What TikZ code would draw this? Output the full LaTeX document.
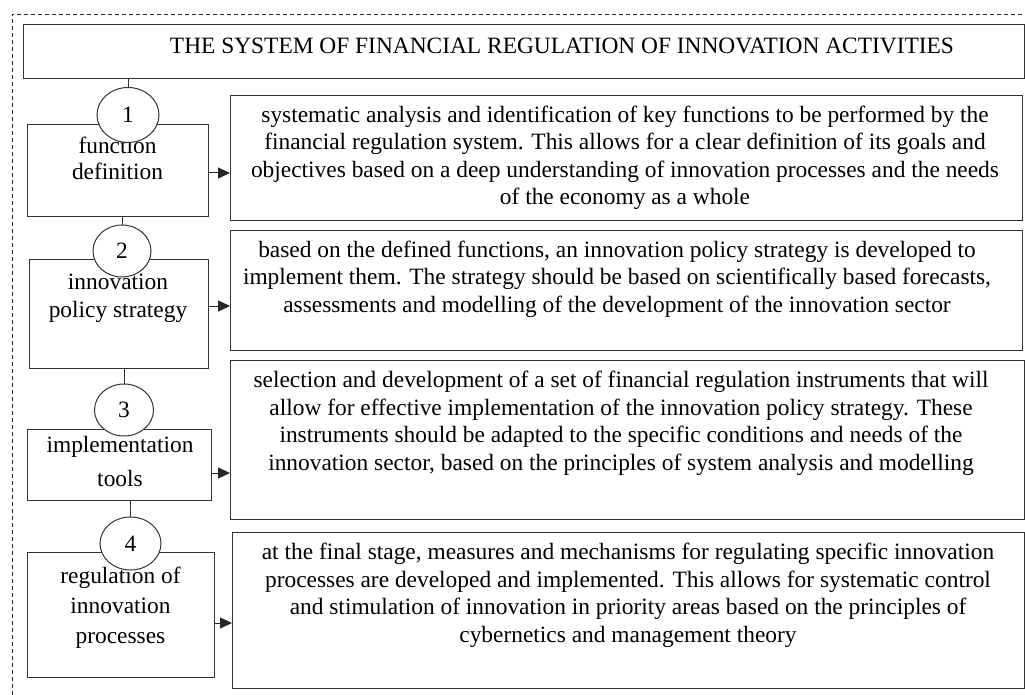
\documentclass[tikz,border=0pt]{standalone}
\usepackage{fontspec}
\setmainfont{Liberation Serif}
\usetikzlibrary{shapes.geometric,arrows.meta,calc}
\begin{document}
\begin{tikzpicture}[x=1pt,y=-1pt,
  box/.style={draw=black!80,line width=1pt,rectangle,inner sep=0pt,anchor=north west},
  txt/.style={font=\fontsize{23.4}{27.5}\selectfont,align=center,inner sep=0pt,anchor=base},
  num/.style={draw=black!80,line width=1pt,ellipse,fill=white,inner sep=0pt,font=\fontsize{23.4}{27.5}\selectfont},
  arr/.style={line width=1pt,draw=black!85,-{Triangle[length=12pt,width=11pt]}},
  lnk/.style={line width=1pt,draw=black!80},
  frame/.style={line width=0.8pt,draw=black!85,dash pattern=on 4pt off 3pt}]
\useasboundingbox (0,0) rectangle (1025,695);
\draw[frame] (12,695) -- (12,14) -- (1025,14);
% boxes
\node[box,minimum width=1001pt,minimum height=54pt] (title) at (23,24) {};
\node[box,minimum width=181pt,minimum height=92pt] (l1) at (27,124) {};
\node[box,minimum width=179pt,minimum height=109pt] (l2) at (29,259) {};
\node[box,minimum width=184pt,minimum height=71pt] (l3) at (27,429) {};
\node[box,minimum width=187pt,minimum height=125pt] (l4) at (27,552) {};
\node[box,minimum width=792pt,minimum height=125pt] (r1) at (230,95) {};
\node[box,minimum width=792pt,minimum height=120pt] (r2) at (230,230) {};
\node[box,minimum width=794pt,minimum height=159pt] (r3) at (230,360) {};
\node[box,minimum width=792pt,minimum height=156pt] (r4) at (232,532) {};
% texts (anchor = baseline of last line)
\node[txt] (ttl) at (562,54) {THE SYSTEM OF FINANCIAL REGULATION OF INNOVATION ACTIVITIES};
\node[txt,font=\fontsize{23.4}{26}\selectfont] (t1) at (117.5,180) {function\\definition};
\node[txt] (t2) at (118,317) {innovation\\policy strategy};
\node[txt,font=\fontsize{23.4}{34}\selectfont] (t3) at (120,486) {implementation\\tools};
\node[txt,font=\fontsize{23.4}{30}\selectfont] (t4) at (120.5,643) {regulation of\\innovation\\processes};
\node[txt] (d1) at (625,205) {systematic analysis and identification of key functions to be performed by the\\
financial regulation system. This allows for a clear definition of its goals and\\
objectives based on a deep understanding of innovation processes and the needs\\
of the economy as a whole};
\node[txt] (d2) at (617,312) {based on the defined functions, an innovation policy strategy is developed to\\
implement them. The strategy should be based on scientifically based forecasts,\\
assessments and modelling of the development of the innovation sector};
\node[txt] (d3) at (621,470) {selection and development of a set of financial regulation instruments that will\\
allow for effective implementation of the innovation policy strategy. These\\
instruments should be adapted to the specific conditions and needs of the\\
innovation sector, based on the principles of system analysis and modelling};
\node[txt] (d4) at (628,642) {at the final stage, measures and mechanisms for regulating specific innovation\\
processes are developed and implemented. This allows for systematic control\\
and stimulation of innovation in priority areas based on the principles of\\
cybernetics and management theory};
% number circles
\node[num,minimum width=62pt,minimum height=55pt] (c1) at (128,115) {1};
\node[num,minimum width=58pt,minimum height=52pt] (c2) at (122,251) {2};
\node[num,minimum width=59pt,minimum height=52pt] (c3) at (124,410) {3};
\node[num,minimum width=61pt,minimum height=53pt] (c4) at (130.5,543.5) {4};
% connectors
\draw[lnk] (title.south -| c1.north) -- (c1.north);
\draw[lnk] (l1.south -| c2.north) -- (c2.north);
\draw[lnk] (l2.south -| c3.north) -- (c3.north);
\draw[lnk] (l3.south -| c4.north) -- (c4.north);
\coordinate (a1) at (0,173);
\coordinate (a2) at (0,306);
\coordinate (a3) at (0,473);
\coordinate (a4) at (0,623);
\draw[arr] (l1.east |- a1) -- (r1.west |- a1);
\draw[arr] (l2.east |- a2) -- (r2.west |- a2);
\draw[arr] (l3.east |- a3) -- (r3.west |- a3);
\draw[arr] (l4.east |- a4) -- (r4.west |- a4);
\end{tikzpicture}
\end{document}
